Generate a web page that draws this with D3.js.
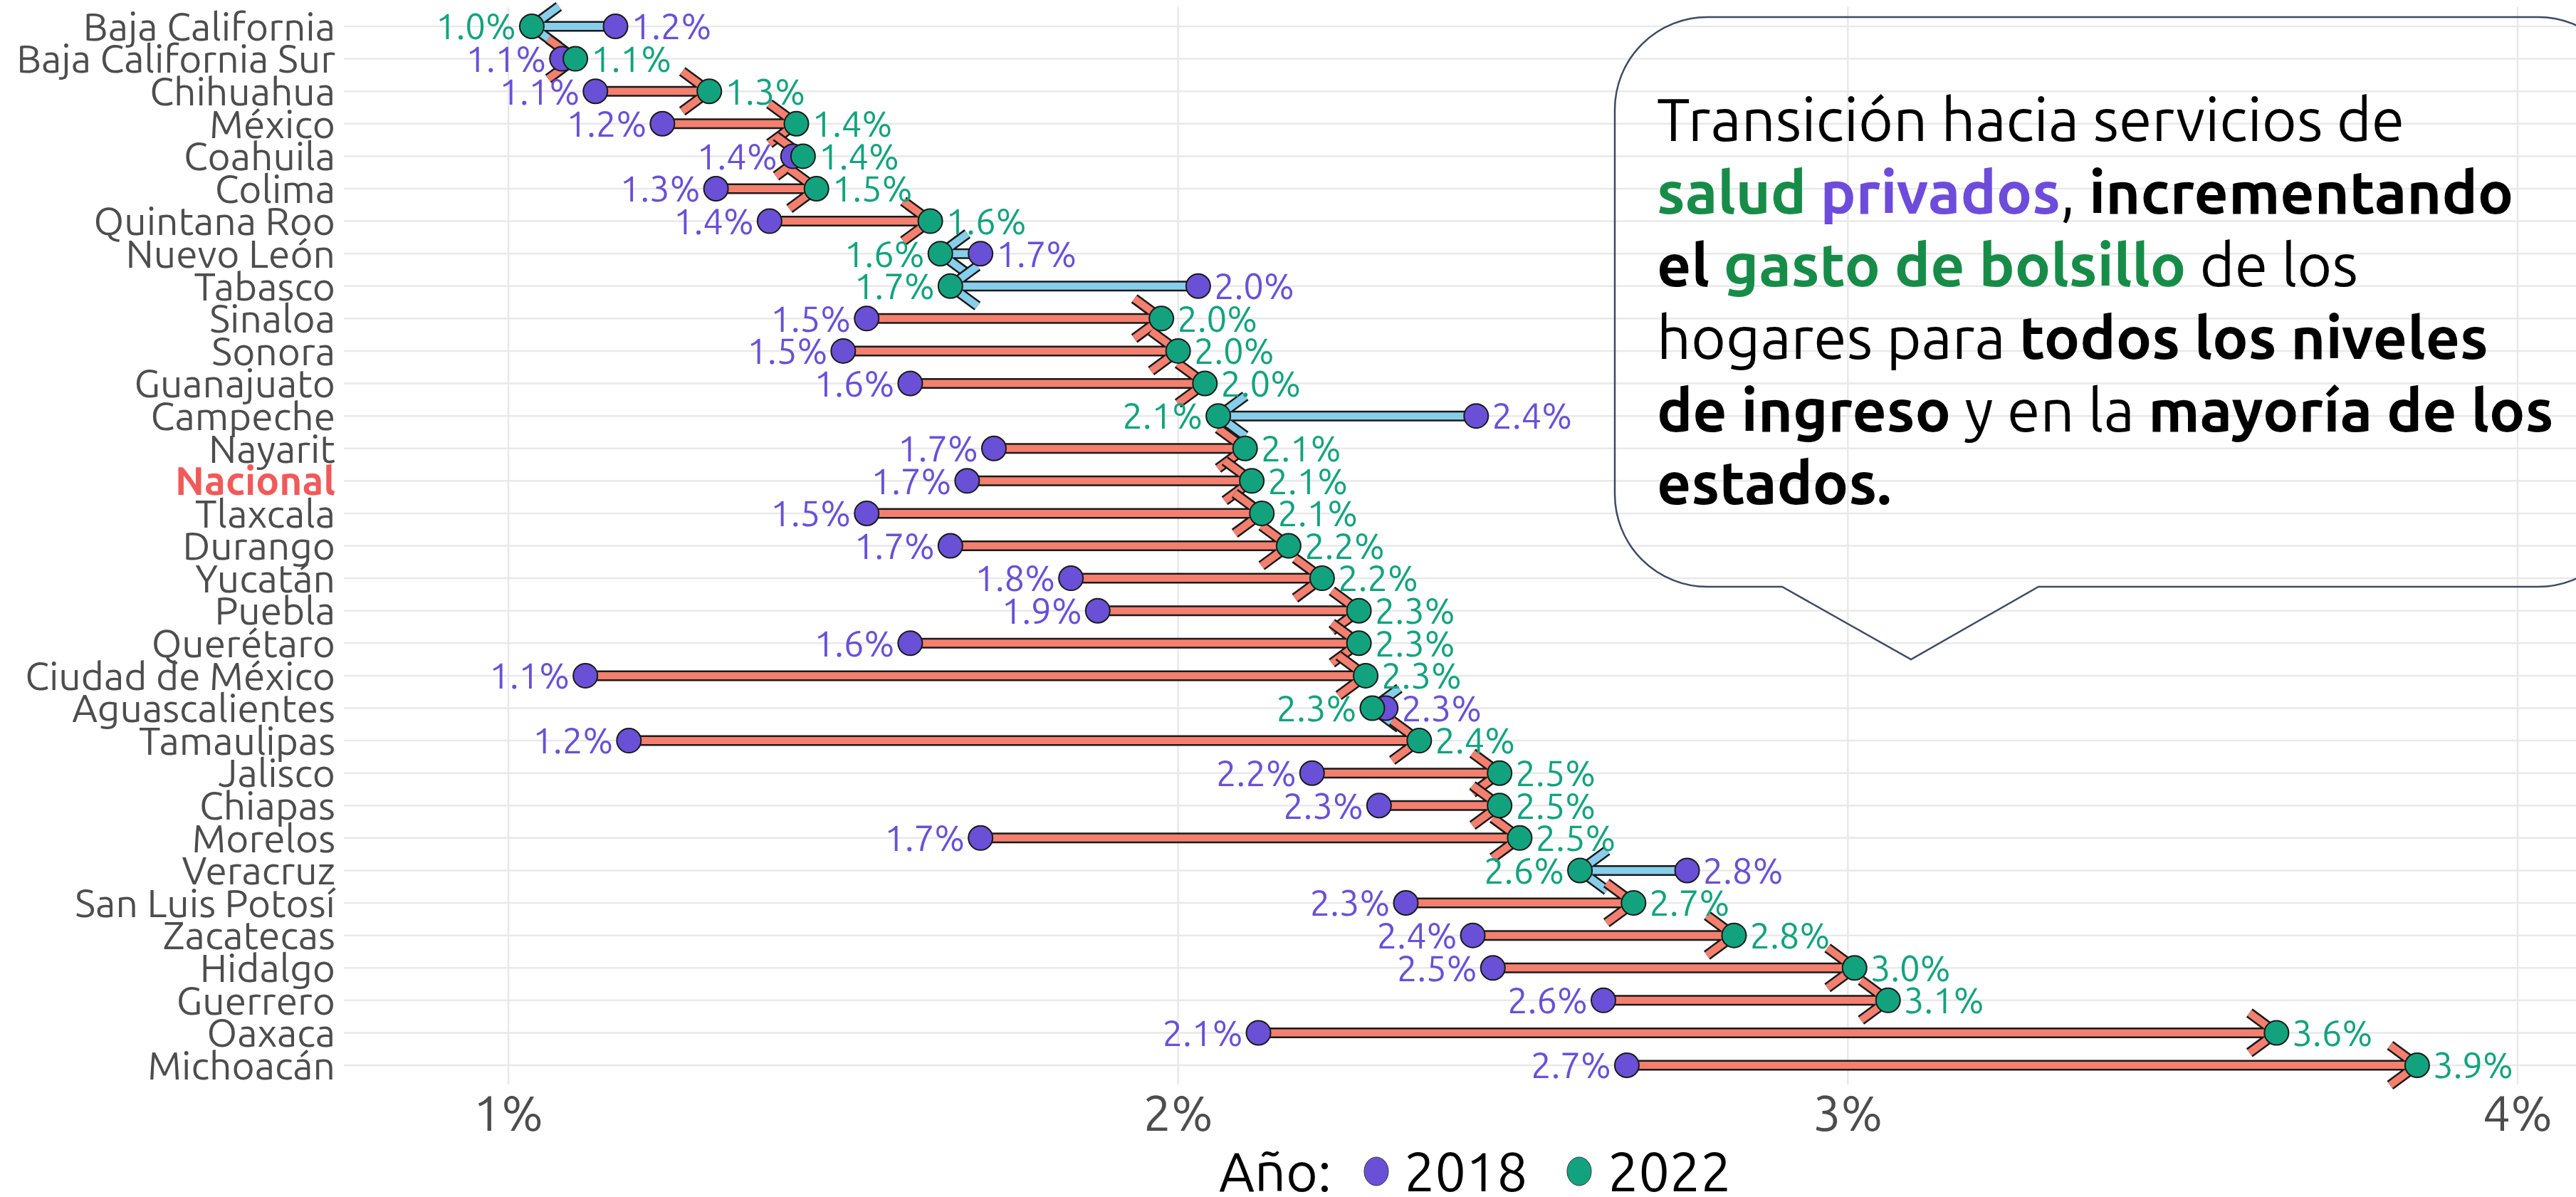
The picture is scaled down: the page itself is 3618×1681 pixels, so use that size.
<!DOCTYPE html>
<html>
<head>
<meta charset="utf-8">
<script src="https://cdn.jsdelivr.net/npm/d3@7"></script>
<style>
  html, body { margin: 0; padding: 0; background: #ffffff; }
  svg { display: block; }
  text { font-family: Ubuntu, "Open Sans", "Noto Sans", sans-serif; }
</style>
</head>
<body>
<svg id="chart" width="3618" height="1681"></svg>
<script>
// ---------------- DATA ----------------
const states = ["Baja California","Baja California Sur","Chihuahua","México","Coahuila","Colima",
  "Quintana Roo","Nuevo León","Tabasco","Sinaloa","Sonora","Guanajuato","Campeche","Nayarit",
  "Nacional","Tlaxcala","Durango","Yucatán","Puebla","Querétaro","Ciudad de México","Aguascalientes",
  "Tamaulipas","Jalisco","Chiapas","Morelos","Veracruz","San Luis Potosí","Zacatecas","Hidalgo",
  "Guerrero","Oaxaca","Michoacán"];
const v2018 = [1.16,1.08,1.13,1.23,1.425,1.31,1.39,1.705,2.03,1.535,1.50,1.60,2.445,1.725,
  1.685,1.535,1.66,1.84,1.88,1.60,1.115,2.31,1.18,2.20,2.30,1.705,2.76,2.34,2.44,2.47,
  2.635,2.12,2.67];
const v2022 = [1.035,1.10,1.30,1.43,1.44,1.46,1.63,1.645,1.66,1.975,2.00,2.04,2.06,2.10,
  2.11,2.125,2.165,2.215,2.27,2.27,2.28,2.29,2.36,2.48,2.48,2.51,2.60,2.68,2.83,3.01,
  3.06,3.64,3.85];
const xTicks = [1,2,3,4];
const years = ["2018","2022"];

// ---------------- STYLE ----------------
const W = 3618, H = 1681;
const col2018 = "#6a50d6", col2022 = "#12a37e";
const colUp = "#f47f6e", colDown = "#87ceeb";
const gridCol = "#e9e9e9", axisTextCol = "#4d4d4d";

const svg = d3.select("#chart");
svg.append("rect").attr("width", W).attr("height", H).attr("fill", "#fff");

const x = d3.scaleLinear().domain([1, 4]).range([714, 3536]);
const y = d3.scalePoint().domain(states).range([37, 1496]);
const panel = { left: 483, right: W, top: 10, bottom: 1523 };

// grid
const grid = svg.append("g");
grid.selectAll("line.h").data(states).join("line")
  .attr("x1", panel.left).attr("x2", panel.right)
  .attr("y1", d => y(d)).attr("y2", d => y(d))
  .attr("stroke", gridCol).attr("stroke-width", 2.5);
grid.selectAll("line.v").data(xTicks).join("line")
  .attr("x1", d => x(d)).attr("x2", d => x(d))
  .attr("y1", panel.top).attr("y2", panel.bottom)
  .attr("stroke", gridCol).attr("stroke-width", 2.5);

// y axis labels
svg.append("g").selectAll("text").data(states).join("text")
  .attr("x", 471).attr("y", d => y(d)).attr("dy", "0.36em")
  .attr("text-anchor", "end")
  .attr("font-size", 55)
  .attr("font-weight", d => d === "Nacional" ? 700 : 400)
  .attr("fill", d => d === "Nacional" ? "#f05a5a" : axisTextCol)
  .text(d => d);

// x axis labels
svg.append("g").selectAll("text").data(xTicks).join("text")
  .attr("x", d => x(d)).attr("y", 1588)
  .attr("text-anchor", "middle").attr("font-size", 70)
  .attr("fill", axisTextCol)
  .text(d => d + "%");

// rows data
const rows = states.map((s, i) => ({ s, a: v2018[i], b: v2022[i] }));

// arrows
const headLen = 38, headHalf = 28;
function arrowPath(d) {
  const x1 = x(d.a), x2 = x(d.b), yy = y(d.s);
  const dir = x2 >= x1 ? 1 : -1;
  return `M${x1},${yy}L${x2},${yy}M${x2 - dir * headLen},${yy - headHalf}L${x2},${yy}L${x2 - dir * headLen},${yy + headHalf}`;
}
const arrows = svg.append("g");
rows.forEach(d => {
  const g = arrows.append("g");
  g.append("path").attr("d", arrowPath(d)).attr("fill", "none")
    .attr("stroke", "#1a1a1a").attr("stroke-width", 15).attr("stroke-linejoin", "miter");
  g.append("path").attr("d", arrowPath(d)).attr("fill", "none")
    .attr("stroke", d.b >= d.a ? colUp : colDown).attr("stroke-width", 10).attr("stroke-linejoin", "miter");
});

// points
const pts = svg.append("g");
pts.selectAll("circle.p18").data(rows).join("circle")
  .attr("cx", d => x(d.a)).attr("cy", d => y(d.s)).attr("r", 17)
  .attr("fill", col2018).attr("stroke", "#1a1a1a").attr("stroke-width", 2);
pts.selectAll("circle.p22").data(rows).join("circle")
  .attr("cx", d => x(d.b)).attr("cy", d => y(d.s)).attr("r", 17)
  .attr("fill", col2022).attr("stroke", "#1a1a1a").attr("stroke-width", 2);

// value labels
const fmt = v => d3.format(".1f")(v) + "%";
const lab = svg.append("g").attr("font-size", 51);
rows.forEach(d => {
  const leftIs18 = d.a <= d.b;
  const lv = leftIs18 ? d.a : d.b, rv = leftIs18 ? d.b : d.a;
  lab.append("text").attr("x", x(lv) - 22).attr("y", y(d.s)).attr("dy", "0.36em")
    .attr("text-anchor", "end").attr("fill", leftIs18 ? col2018 : col2022).text(fmt(lv));
  lab.append("text").attr("x", x(rv) + 22).attr("y", y(d.s)).attr("dy", "0.36em")
    .attr("text-anchor", "start").attr("fill", leftIs18 ? col2022 : col2018).text(fmt(rv));
});

// legend
const leg = svg.append("g").attr("font-size", 77).attr("fill", "#000");
const legY = 1645;
leg.append("text").attr("x", 1712).attr("y", legY).attr("dy", "0.36em").text("Año:");
[["2018", col2018, 1933, 1972], ["2022", col2022, 2218, 2258]].forEach(([t, c, cx, tx]) => {
  leg.append("ellipse").attr("cx", cx).attr("cy", legY).attr("rx", 17).attr("ry", 20)
    .attr("fill", c).attr("stroke", "#333").attr("stroke-width", 1);
  leg.append("text").attr("x", tx).attr("y", legY).attr("dy", "0.36em").text(t);
});

// speech bubble
const bx0 = 2268, bx1 = 3695, by0 = 24, by1 = 824, r = 130;
const tail = { l: 2503, r: 2863, tipX: 2684, tipY: 926 };
const bubble = d3.path();
bubble.moveTo(bx0 + r, by0);
bubble.lineTo(bx1 - r, by0);
bubble.arcTo(bx1, by0, bx1, by0 + r, r);
bubble.lineTo(bx1, by1 - r);
bubble.arcTo(bx1, by1, bx1 - r, by1, r);
bubble.lineTo(tail.r, by1);
bubble.lineTo(tail.tipX, tail.tipY);
bubble.lineTo(tail.l, by1);
bubble.lineTo(bx0 + r, by1);
bubble.arcTo(bx0, by1, bx0, by1 - r, r);
bubble.lineTo(bx0, by0 + r);
bubble.arcTo(bx0, by0, bx0 + r, by0, r);
bubble.closePath();
svg.append("path").attr("d", bubble.toString()).attr("fill", "none")
  .attr("stroke", "#3d4a66").attr("stroke-width", 2.5);

const green = "#178c48", purple = "#6e4cdb";
const lines = [
  [["Transición hacia servicios de", 400, "#000"]],
  [["salud", 700, green], [" ", 400, "#000"], ["privados", 700, purple], [", ", 400, "#000"], ["incrementando", 700, "#000"]],
  [["el ", 700, "#000"], ["gasto de bolsillo", 700, green], [" de los", 400, "#000"]],
  [["hogares para ", 400, "#000"], ["todos los niveles", 700, "#000"]],
  [["de ingreso", 700, "#000"], [" y en la ", 400, "#000"], ["mayoría de los", 700, "#000"]],
  [["estados.", 700, "#000"]]
];
const bt = svg.append("text").attr("font-size", 84).attr("xml:space", "preserve");
lines.forEach((ln, i) => {
  ln.forEach((seg, j) => {
    const ts = bt.append("tspan").attr("font-weight", seg[1]).attr("fill", seg[2]).text(seg[0]);
    if (j === 0) ts.attr("x", 2327).attr("y", 198 + i * 102);
  });
});
</script>
</body>
</html>
